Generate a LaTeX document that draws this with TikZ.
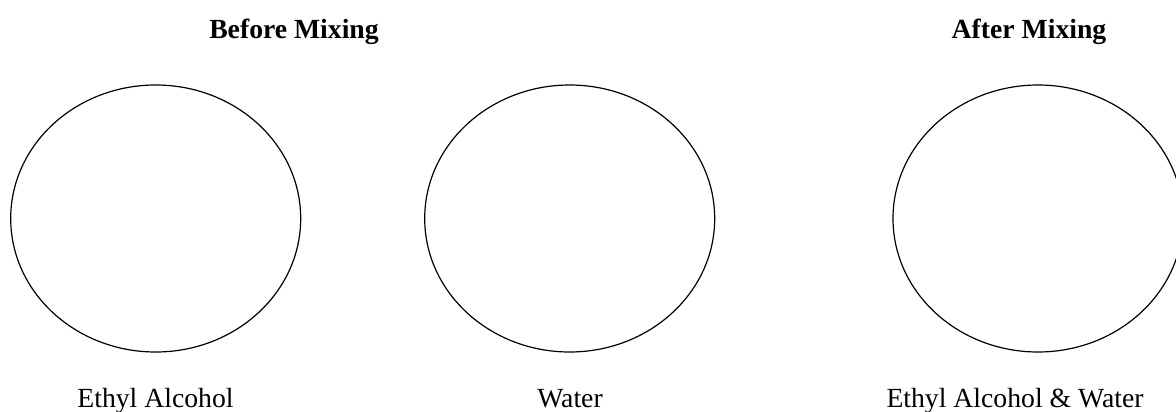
\documentclass[tikz,border=0pt]{standalone}
\usepackage{fontspec}
\setmainfont{Liberation Serif}
\usetikzlibrary{shapes.geometric}
\begin{document}
\begin{tikzpicture}[x=1pt,y=-1pt,
  beaker/.style={draw=black,line width=1.2pt,ellipse,minimum width=290pt,minimum height=267pt,inner sep=0pt},
  heading/.style={anchor=base,inner sep=0pt,font=\fontsize{27.7}{33}\selectfont\bfseries},
  caption/.style={anchor=base,inner sep=0pt,font=\fontsize{27.7}{33}\selectfont}]
\useasboundingbox (0,0) rectangle (1176,412);
\node[heading] (before) at (294,39) {Before Mixing};
\node[heading] (after) at (1029,39) {After Mixing};
\node[beaker] (alc) at (155.7,218.5) {};
\node[beaker] (wat) at (569.7,218.5) {};
\node[beaker] (mix) at (1038,218.5) {};
\node[caption] (calc) at (155.5,407) {Ethyl Alcohol};
\node[caption] (cwat) at (570,407) {Water};
\node[caption] (cmix) at (1015,407) {Ethyl Alcohol \& Water};
\end{tikzpicture}
\end{document}
